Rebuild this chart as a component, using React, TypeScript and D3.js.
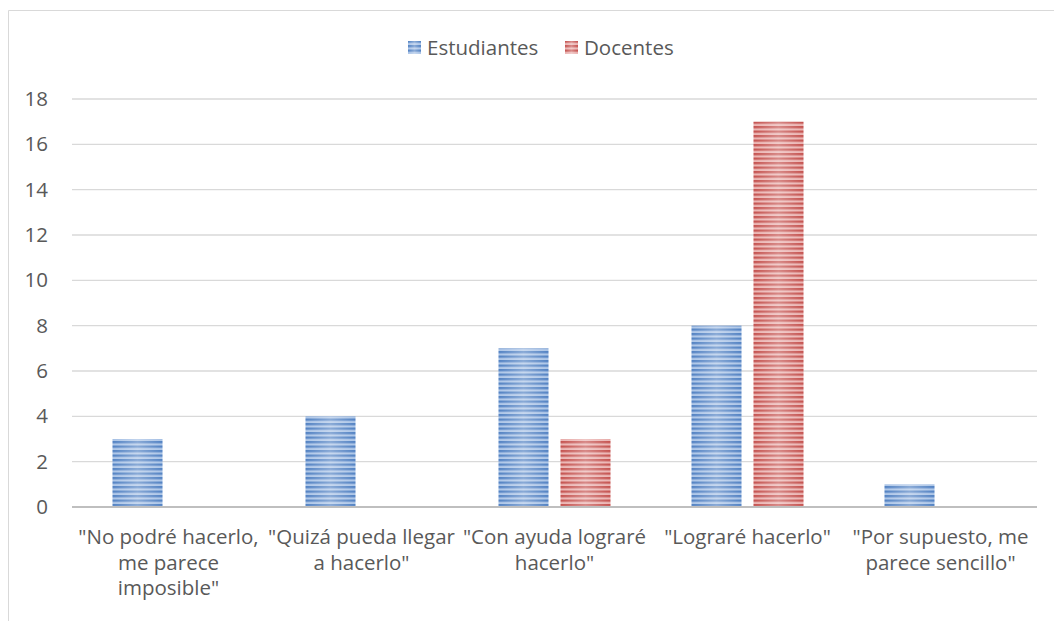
import React from "react";
import * as d3 from "d3";

const categories: string[][] = [
  ['"No podré hacerlo,', "me parece", 'imposible"'],
  ['"Quizá pueda llegar', 'a hacerlo"'],
  ['"Con ayuda lograré', 'hacerlo"'],
  ['"Lograré hacerlo"'],
  ['"Por supuesto, me', 'parece sencillo"'],
];
const estudiantes = [3, 4, 7, 8, 1];
const docentes = [0, 0, 3, 17, 0];
const seriesNames = ["Estudiantes", "Docentes"];
const yTicks = [0, 2, 4, 6, 8, 10, 12, 14, 16, 18];

const W = 1054;
const H = 621;
const FONT = "'Open Sans', 'Noto Sans', sans-serif";

export default function App() {
  const left = 72, right = 1037, top = 99, bottom = 507;
  const x = d3.scaleBand<number>().domain(d3.range(categories.length)).range([left, right]);
  const y = d3.scaleLinear().domain([0, 18]).range([bottom, top]);
  const barW = 50, gap = 12;
  const series = [estudiantes, docentes];
  return (
    <svg width={W} height={H} style={{ position: "absolute", left: 0, top: 0, background: "#fff" }}>
      <defs>
        <pattern id="stB" width="8" height="4.5" patternUnits="userSpaceOnUse">
          <rect width="8" height="4.5" fill="#a9c3e6" />
          <rect width="8" height="2.3" fill="#4a7cc0" />
        </pattern>
        <pattern id="stR" width="8" height="4.5" patternUnits="userSpaceOnUse">
          <rect width="8" height="4.5" fill="#eab0ae" />
          <rect width="8" height="2.3" fill="#c24a47" />
        </pattern>
        <linearGradient id="shine" x1="0" x2="1" y1="0" y2="0">
          <stop offset="0" stopColor="#fff" stopOpacity="0.05" />
          <stop offset="0.5" stopColor="#fff" stopOpacity="0.35" />
          <stop offset="1" stopColor="#fff" stopOpacity="0.05" />
        </linearGradient>
      </defs>
      {/* outer border */}
      <line x1={8.5} y1={10.5} x2={W} y2={10.5} stroke="#d9d9d9" />
      <line x1={8.5} y1={10.5} x2={8.5} y2={H} stroke="#d9d9d9" />
      {/* legend */}
      <g fontFamily={FONT} fontSize={20.5} fill="#595959">
        <rect x={408} y={41} width={13} height={13} fill="url(#stB)" />
        <rect x={408} y={41} width={13} height={13} fill="url(#shine)" />
        <text x={427} y={55}>{seriesNames[0]}</text>
        <rect x={565} y={41} width={13} height={13} fill="url(#stR)" />
        <rect x={565} y={41} width={13} height={13} fill="url(#shine)" />
        <text x={584} y={55}>{seriesNames[1]}</text>
      </g>
      {/* gridlines */}
      {yTicks.map((t) => (
        <line key={t} x1={left} x2={right} y1={y(t)} y2={y(t)} stroke={t === 0 ? "#bfbfbf" : "#d9d9d9"} strokeWidth={t === 0 ? 2 : 1.3} />
      ))}
      {/* y labels */}
      <g fontFamily={FONT} fontSize={20.5} fill="#595959" textAnchor="end">
        {yTicks.map((t) => (
          <text key={t} x={48} y={y(t) + 7}>{t}</text>
        ))}
      </g>
      {/* bars */}
      {series.map((s, si) =>
        s.map((v, i) => {
          if (v === 0) return null;
          const c = x(i)! + x.bandwidth() / 2;
          const bx = si === 0 ? c - gap / 2 - barW : c + gap / 2;
          const by = y(v);
          const bh = y(0) - 1 - by;
          return (
            <g key={`${si}-${i}`}>
              <rect x={bx} y={by} width={barW} height={bh} fill={si === 0 ? "url(#stB)" : "url(#stR)"} />
              <rect x={bx} y={by} width={barW} height={bh} fill="url(#shine)" />
            </g>
          );
        })
      )}
      {/* category labels */}
      <g fontFamily={FONT} fontSize={20.5} fill="#595959" textAnchor="middle">
        {categories.map((lines, i) => (
          <text key={i} x={x(i)! + x.bandwidth() / 2} y={544}>
            {lines.map((l, j) => (
              <tspan key={j} x={x(i)! + x.bandwidth() / 2} dy={j === 0 ? 0 : 25.5}>{l}</tspan>
            ))}
          </text>
        ))}
      </g>
    </svg>
  );
}
